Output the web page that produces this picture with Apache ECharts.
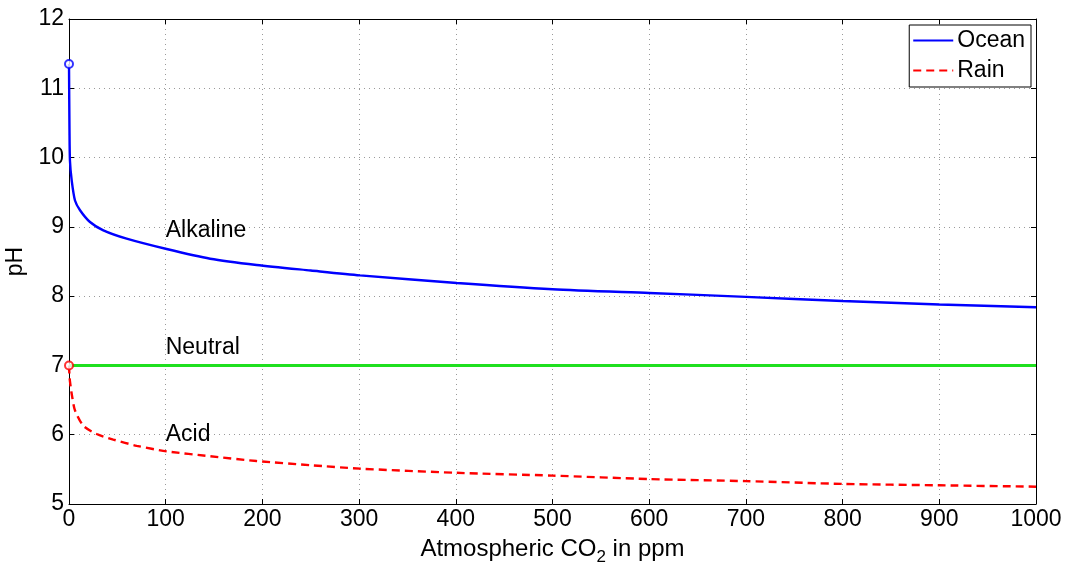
<!DOCTYPE html>
<html><head><meta charset="utf-8">
<script src="https://cdn.jsdelivr.net/npm/echarts@6/dist/echarts.min.js"></script>
<style>html,body{margin:0;padding:0;background:#fff}#c{width:1065px;height:562px}</style>
</head><body><div id="c"></div>
<script>
const oceanPpm = [0, 0.5, 1, 2.8, 6.2, 11.4, 21.7, 35.5, 59.6, 101, 146, 194, 250, 301, 401, 500, 600, 700, 800, 900, 1000];
const oceanPH = [11.35, 10.4, 9.95, 9.67, 9.38, 9.24, 9.07, 8.95, 8.83, 8.68, 8.54, 8.45, 8.37, 8.30, 8.19, 8.10, 8.045, 7.99, 7.93, 7.88, 7.84];
const rainPpm = [0, 0.5, 1, 2.8, 6.2, 14.8, 28.6, 45.8, 70, 101, 146, 194, 250, 301, 401, 500, 600, 700, 800, 900, 1000];
const rainPH = [7.0, 6.85, 6.77, 6.59, 6.35, 6.13, 6.01, 5.93, 5.84, 5.76, 5.69, 5.62, 5.56, 5.51, 5.45, 5.41, 5.36, 5.33, 5.29, 5.27, 5.25];
const neutralPH = 7;
const regionLabels = ['Alkaline', 'Neutral', 'Acid'];
const regionLabelPos = [[100, 8.95], [100, 7.26], [100, 6.0]];

const font = 'Liberation Sans, Arial, Helvetica, sans-serif';
const chart = echarts.init(document.getElementById('c'), null, {renderer: 'canvas'});
const gridLine = {show: true, lineStyle: {color: '#9a9a9a', type: [1, 4], width: 1}};
const opt = {
  animation: false,
  backgroundColor: '#fff',
  grid: {left: 69, right: 29, top: 19, bottom: 58, containLabel: false, outerBoundsMode: 'none'},
  legend: {
    data: ['Ocean', 'Rain'], orient: 'vertical', right: 34, top: 25,
    backgroundColor: '#fff', borderColor: '#000', borderWidth: 1, borderRadius: 0,
    padding: [4, 6, 5, 3], itemGap: 7, itemWidth: 40, itemHeight: 24,
    itemStyle: {opacity: 0},
    textStyle: {fontFamily: font, fontSize: 23, color: '#000', padding: [0, 0, 0, -1]}
  },
  xAxis: [{
    type: 'value', min: 0, max: 1000, interval: 100,
    name: '{a|Atmospheric CO}{s|2}{a| in ppm}', nameLocation: 'middle', nameGap: 29,
    nameTextStyle: {rich: {a: {fontFamily: font, fontSize: 24, color: '#000'}, s: {fontFamily: font, fontSize: 17, color: '#000', verticalAlign: 'bottom', padding: [16, 0, 0, 0]}}},
    axisLine: {show: true, lineStyle: {color: '#000', width: 1}},
    axisTick: {show: true, inside: true, length: 5, lineStyle: {color: '#000'}},
    axisLabel: {fontFamily: font, fontSize: 23, color: '#000', margin: 4, formatter: v => String(v)},
    splitLine: gridLine
  }, {
    type: 'value', position: 'top', min: 0, max: 1000, interval: 100,
    axisLine: {show: true, onZero: false, lineStyle: {color: '#000', width: 1}},
    axisTick: {show: true, inside: true, length: 5, lineStyle: {color: '#000'}},
    axisLabel: {show: false}, splitLine: {show: false}
  }],
  yAxis: [{
    type: 'value', min: 5, max: 12, interval: 1,
    name: 'pH', nameLocation: 'middle', nameGap: 38, nameRotate: 90,
    nameTextStyle: {fontFamily: font, fontSize: 23, color: '#000'},
    axisLine: {show: true, lineStyle: {color: '#000', width: 1}},
    axisTick: {show: true, inside: true, length: 5, lineStyle: {color: '#000'}},
    axisLabel: {fontFamily: font, fontSize: 23, color: '#000', margin: 5},
    splitLine: gridLine
  }, {
    type: 'value', position: 'right', min: 5, max: 12, interval: 1,
    axisLine: {show: true, onZero: false, lineStyle: {color: '#000', width: 1}},
    axisTick: {show: true, inside: true, length: 5, lineStyle: {color: '#000'}},
    axisLabel: {show: false}, splitLine: {show: false}
  }],
  series: [
    {name: 'Neutral', type: 'line', symbol: 'none', silent: true,
     data: [[0, neutralPH], [1000, neutralPH]],
     lineStyle: {color: '#1fe01f', width: 3}, z: 2},
    {name: 'Ocean', type: 'line', symbol: 'none', smooth: 0.25,
     data: oceanPpm.map((x, i) => [x, oceanPH[i]]),
     itemStyle: {color: '#0000ff'},
     lineStyle: {color: '#0000ff', width: 2.4}, z: 3},
    {name: 'Rain', type: 'line', symbol: 'none', smooth: 0.25,
     data: rainPpm.map((x, i) => [x, rainPH[i]]),
     itemStyle: {color: '#ff0000'},
     lineStyle: {color: '#ff0000', width: 2.4, type: [8, 5]}, z: 3},
    {name: 'start', type: 'scatter', symbol: 'emptyCircle', symbolSize: 8,
     data: [
       {value: [oceanPpm[0], oceanPH[0]], itemStyle: {color: '#0000ff', borderColor: '#0000ff', borderWidth: 2}},
       {value: [rainPpm[0], rainPH[0]], itemStyle: {color: '#ff0000', borderColor: '#ff0000', borderWidth: 2}}
     ], z: 5},
    {name: 'labels', type: 'scatter', symbolSize: 0, silent: true,
     data: regionLabels.map((n, i) => ({name: n, value: regionLabelPos[i]})),
     label: {show: true, position: 'right', distance: 0, formatter: p => p.name,
             fontFamily: font, fontSize: 23, color: '#000', opacity: 1}, z: 6}
  ]
};
chart.setOption(opt);
</script></body></html>
